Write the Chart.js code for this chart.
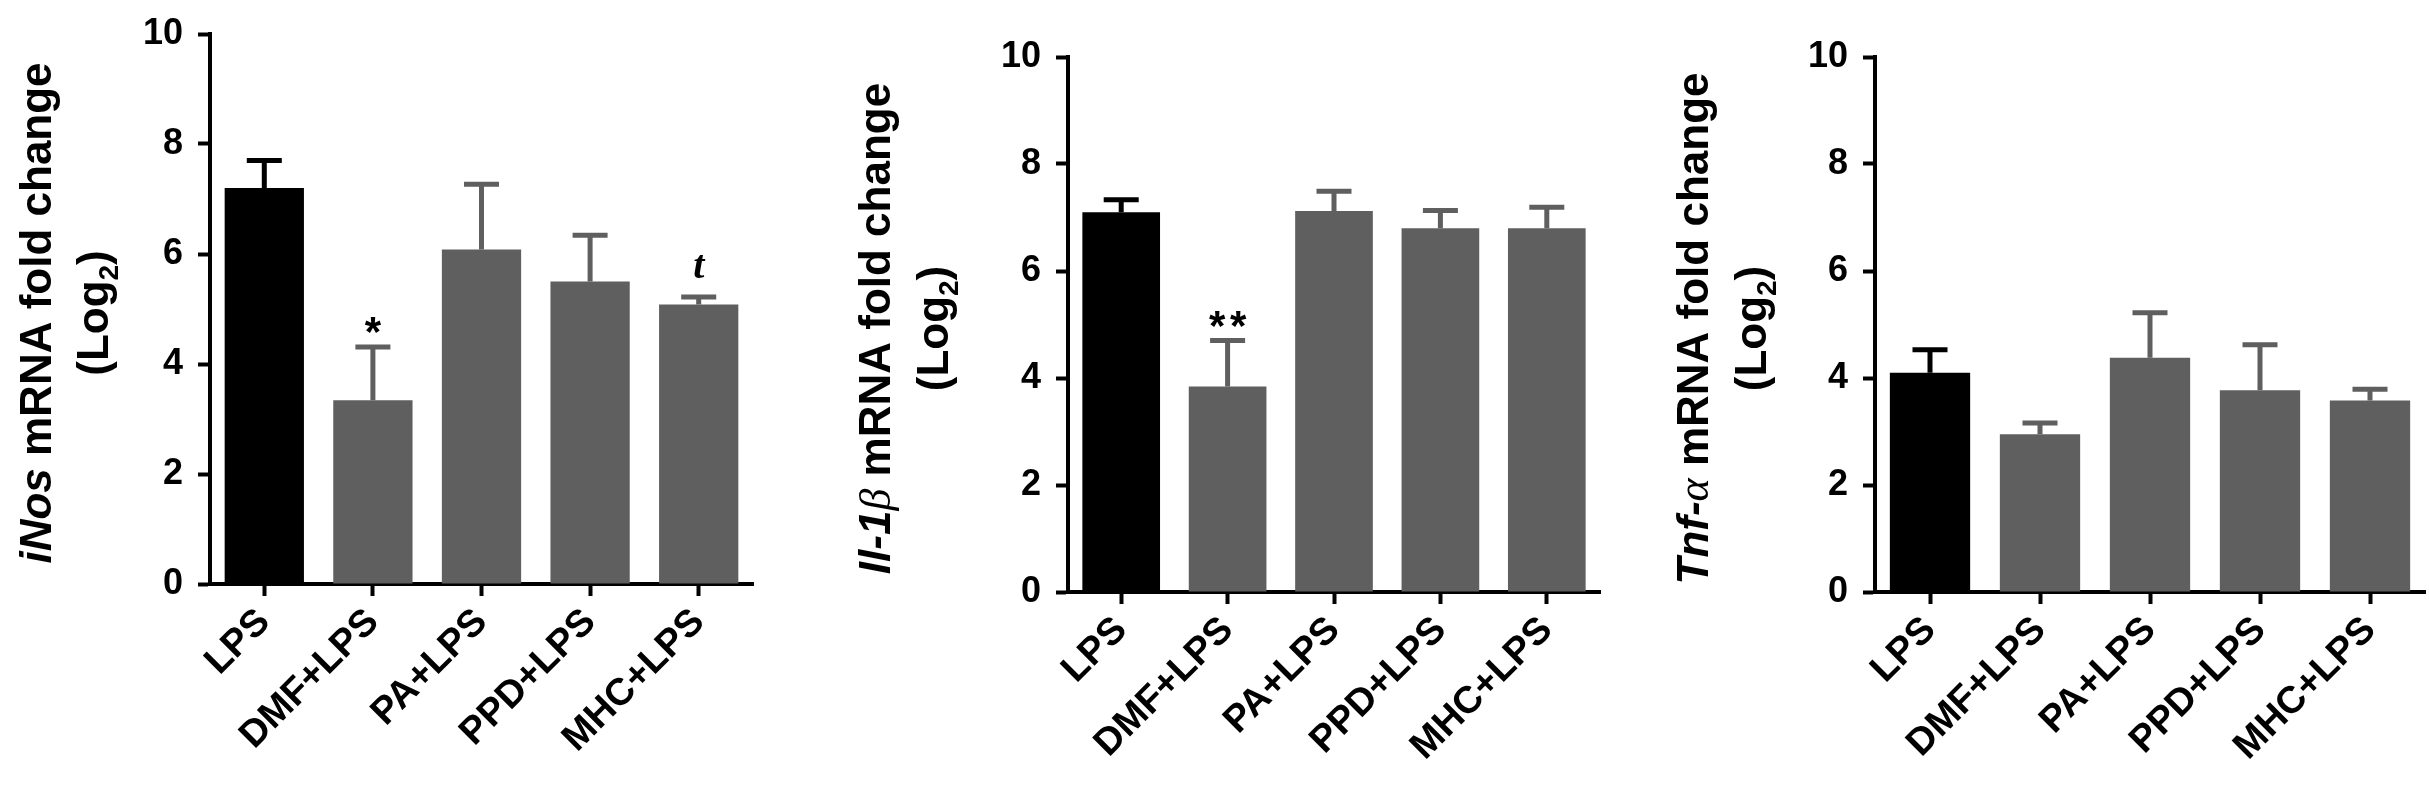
<!DOCTYPE html>
<html>
<head>
<meta charset="utf-8">
<script src="https://cdn.jsdelivr.net/npm/chart.js@4.4.1/dist/chart.umd.min.js"></script>
<style>
  html, body { margin: 0; padding: 0; background: #fff; }
  #wrap { position: relative; width: 2429px; height: 788px; }
  .panel { position: absolute; top: 0; }
</style>
</head>
<body>
<div id="wrap">
  <div class="panel" style="left:0px"><canvas id="c1" width="810" height="788"></canvas></div>
  <div class="panel" style="left:810px"><canvas id="c2" width="810" height="788"></canvas></div>
  <div class="panel" style="left:1620px"><canvas id="c3" width="809" height="788"></canvas></div>
</div>
<script>
// Datos (Log2 fold change, media y SEM)
const categorias = ["LPS", "DMF+LPS", "PA+LPS", "PPD+LPS", "MHC+LPS"];

const inosMedia = [7.2, 3.34, 6.08, 5.5, 5.08];
const inosSem = [0.5, 0.97, 1.19, 0.84, 0.14];
const inosMarcas = ["", "*", "", "", "t"];

const il1bMedia = [7.1, 3.84, 7.12, 6.8, 6.8];
const il1bSem = [0.23, 0.86, 0.37, 0.33, 0.39];
const il1bMarcas = ["", "**", "", "", ""];

const tnfMedia = [4.1, 2.95, 4.38, 3.77, 3.58];
const tnfSem = [0.43, 0.21, 0.84, 0.85, 0.21];
const tnfMarcas = ["", "", "", "", ""];

const yMin = 0;
const yMax = 10;
const yPaso = 2;

// Estilos
const fuente = "'Liberation Sans', Arial, sans-serif";
const fuenteSerif = "'Liberation Serif', 'Times New Roman', serif";
const negro = "#000000";
const gris = "#5f5f5f";
const colores = [negro, gris, gris, gris, gris];

function fuenteDe(s) {
  if (s.griego) return "italic 44px " + fuenteSerif;
  if (s.sub) return "bold 28px " + fuente;
  return (s.it ? "italic " : "") + "bold 44px " + fuente;
}

// Barras de error (solo hacia arriba) y marcas de significancia
const barrasError = {
  id: "barrasError",
  afterDatasetsDraw(chart, args, opts) {
    const ctx = chart.ctx;
    const meta = chart.getDatasetMeta(0);
    const escalaY = chart.scales.y;
    const ds = chart.data.datasets[0];
    meta.data.forEach((bar, i) => {
      const arriba = escalaY.getPixelForValue(ds.data[i] + opts.sem[i]);
      ctx.save();
      ctx.strokeStyle = ds.backgroundColor[i];
      ctx.lineWidth = 5;
      ctx.lineCap = "butt";
      ctx.beginPath();
      ctx.moveTo(bar.x, bar.y);
      ctx.lineTo(bar.x, arriba);
      ctx.moveTo(bar.x - 17.5, arriba);
      ctx.lineTo(bar.x + 17.5, arriba);
      ctx.stroke();

      const marca = opts.marcas[i];
      if (marca) {
        ctx.fillStyle = negro;
        ctx.textAlign = "center";
        ctx.textBaseline = "alphabetic";
        if (marca === "t") {
          ctx.font = "italic bold 40px " + fuenteSerif;
          const m = ctx.measureText(marca);
          const centro = arriba - 30;
          ctx.fillText(marca, bar.x, centro + (m.actualBoundingBoxAscent - m.actualBoundingBoxDescent) / 2);
        } else {
          ctx.font = "bold 42px " + fuente;
          const m = ctx.measureText("*");
          const centro = arriba - 22;
          const base = centro + (m.actualBoundingBoxAscent - m.actualBoundingBoxDescent) / 2;
          const n = marca.length;
          for (let k = 0; k < n; k++) {
            ctx.fillText("*", bar.x + (k - (n - 1) / 2) * 21, base);
          }
        }
      }
      ctx.restore();
    });
  }
};

// Titulo del eje Y con partes en cursiva y subindice
const tituloY = {
  id: "tituloY",
  afterDraw(chart, args, opts) {
    const ctx = chart.ctx;
    const cy = (chart.chartArea.top + chart.chartArea.bottom) / 2 + opts.desplazar;
    opts.lineas.forEach((linea, k) => {
      ctx.save();
      ctx.translate(opts.base[k], cy);
      ctx.rotate(-Math.PI / 2);
      ctx.fillStyle = negro;
      ctx.textAlign = "left";
      ctx.textBaseline = "alphabetic";
      let total = 0;
      linea.forEach((s) => {
        ctx.font = fuenteDe(s);
        total += ctx.measureText(s.t).width;
      });
      let x = -total / 2;
      linea.forEach((s) => {
        ctx.font = fuenteDe(s);
        ctx.fillText(s.t, x, s.sub ? 10 : 0);
        x += ctx.measureText(s.t).width;
      });
      ctx.restore();
    });
  }
};

function ejeComun() {
  return {
    grid: {
      display: true,
      drawOnChartArea: false,
      drawTicks: true,
      tickLength: 12,
      tickWidth: 4,
      tickColor: negro,
      offset: false
    },
    border: { display: true, color: negro, width: 4 }
  };
}

function crearPanel(id, area, lineas, baseTitulo, medias, sem, marcas) {
  const canvas = document.getElementById(id);
  const W = canvas.width;
  const H = canvas.height;

  const ejeX = ejeComun();
  ejeX.type = "category";
  ejeX.offset = true;
  ejeX.z = 1;
  ejeX.ticks = {
    color: negro,
    font: { family: fuente, size: 38, weight: "bold" },
    minRotation: 45,
    maxRotation: 45,
    autoSkip: false,
    padding: 4
  };
  ejeX.afterFit = (s) => {
    s.height = H - area.bottom;
    s.paddingLeft = 0;
    s.paddingRight = 0;
  };

  const ejeY = ejeComun();
  ejeY.min = yMin;
  ejeY.max = yMax;
  ejeY.z = 1;
  ejeY.ticks = {
    stepSize: yPaso,
    color: negro,
    font: { family: fuente, size: 36, weight: "bold" },
    padding: 15
  };
  ejeY.afterFit = (s) => {
    s.width = area.left;
    s.paddingTop = 0;
    s.paddingBottom = 0;
  };

  return new Chart(canvas, {
    type: "bar",
    data: {
      labels: categorias,
      datasets: [
        {
          data: medias,
          backgroundColor: colores,
          borderWidth: 0,
          barPercentage: 0.73,
          categoryPercentage: 1
        }
      ]
    },
    options: {
      responsive: false,
      animation: false,
      layout: { padding: { top: area.top, right: W - area.right, left: 0, bottom: 0 } },
      plugins: {
        legend: { display: false },
        tooltip: { enabled: false },
        barrasError: { sem: sem, marcas: marcas },
        tituloY: { lineas: lineas, base: baseTitulo, desplazar: 4 }
      },
      scales: { x: ejeX, y: ejeY }
    },
    plugins: [barrasError, tituloY]
  });
}

const log2 = [{ t: "(Log" }, { t: "2", sub: true }, { t: ")" }];

crearPanel(
  "c1",
  { left: 210, right: 753, top: 34, bottom: 584 },
  [[{ t: "iNos", it: true }, { t: " mRNA fold change" }], log2],
  [51, 108],
  inosMedia, inosSem, inosMarcas
);

crearPanel(
  "c2",
  { left: 258, right: 790, top: 57, bottom: 592 },
  [[{ t: "Il-1", it: true }, { t: "\u03B2", griego: true }, { t: " mRNA fold change" }], log2],
  [80, 138],
  il1bMedia, il1bSem, il1bMarcas
);

crearPanel(
  "c3",
  { left: 255, right: 805, top: 57, bottom: 592 },
  [[{ t: "Tnf-", it: true }, { t: "\u03B1", griego: true }, { t: " mRNA fold change" }], log2],
  [88, 146],
  tnfMedia, tnfSem, tnfMarcas
);
</script>
</body>
</html>
